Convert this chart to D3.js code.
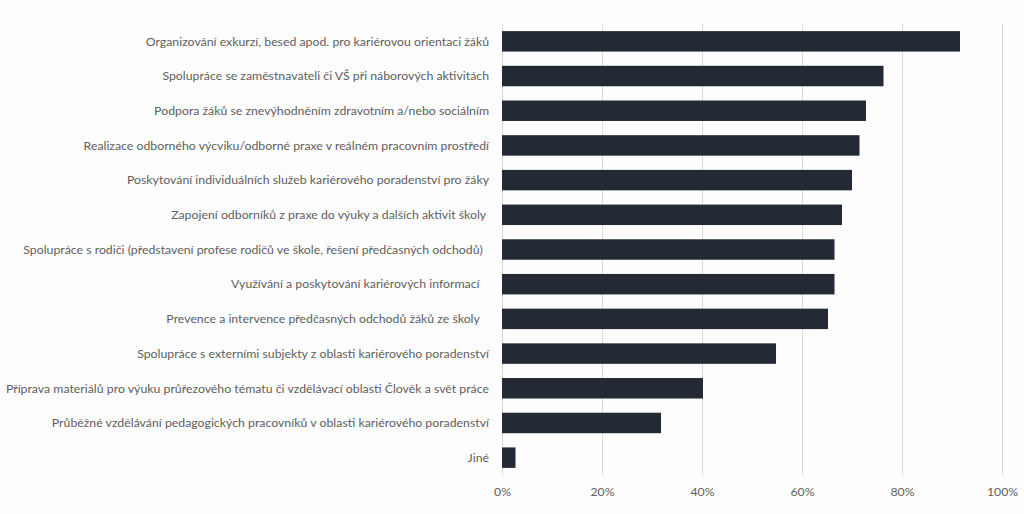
<!DOCTYPE html>
<html lang="cs">
<head>
<meta charset="utf-8" />
<script src="https://d3js.org/d3.v7.min.js"></script>
<style>
body { margin: 0; background: #fdfdfd; }
svg { font-family: Lato, "Open Sans", sans-serif; font-size: 12.3px; }
.label { fill: #5f5f5f; white-space: pre; }
.tick text { fill: #5f5f5f; }
</style>
</head>
<body>
<svg id="chart" width="1024" height="514"></svg>
<script>
var categories = [
  "Organizování exkurzí, besed apod. pro kariérovou orientaci žáků",
  "Spolupráce se zaměstnavateli či VŠ při náborových aktivitách",
  "Podpora žáků se znevýhodněním zdravotním a/nebo sociálním",
  "Realizace odborného výcviku/odborné praxe v reálném pracovním prostředí",
  "Poskytování individuálních služeb kariérového poradenství pro žáky",
  "Zapojení odborníků z praxe do výuky a dalších aktivit školy ",
  "Spolupráce s rodiči (představení profese rodičů ve škole, řešení předčasných odchodů)  ",
  "Využívání a poskytování kariérových informací   ",
  "Prevence a intervence předčasných odchodů žáků ze školy   ",
  "Spolupráce s externími subjekty z oblasti kariérového poradenství",
  "Příprava materiálů pro výuku průřezového tématu či vzdělávací oblasti Člověk a svět práce",
  "Průběžné vzdělávání pedagogických pracovníků v oblasti kariérového poradenství",
  "Jiné"
];
var values = [91.6, 76.3, 72.8, 71.5, 70.0, 68.0, 66.5, 66.5, 65.2, 54.8, 40.2, 31.8, 2.7];
var ticks = [0, 20, 40, 60, 80, 100];

var svg = d3.select("#chart"),
    margin = {top: 24, right: 22, bottom: 39, left: 502},
    width = +svg.attr("width") - margin.left - margin.right,
    height = +svg.attr("height") - margin.top - margin.bottom;

var g = svg.append("g").attr("transform", "translate(" + margin.left + "," + margin.top + ")");

var x = d3.scaleLinear().domain([0, 100]).range([0, width]);
var y = d3.scaleBand().domain(categories).range([0, height]).paddingInner(0.41).paddingOuter(0.205);

// gridlines
g.selectAll("line.grid")
    .data(ticks)
  .enter().append("line")
    .attr("class", "grid")
    .attr("x1", function(d) { return Math.round(x(d)) + 0.5; })
    .attr("x2", function(d) { return Math.round(x(d)) + 0.5; })
    .attr("y1", 0)
    .attr("y2", height)
    .attr("stroke", "#d9d9d9")
    .attr("stroke-width", 1);

g.selectAll("rect.bar")
    .data(values)
  .enter().append("rect")
    .attr("class", "bar")
    .attr("x", x(0))
    .attr("y", function(d, i) { return y(categories[i]); })
    .attr("width", function(d) { return x(d); })
    .attr("height", y.bandwidth())
    .attr("fill", "#232a35");

// category labels
g.selectAll("text.label")
    .data(categories)
  .enter().append("text")
    .attr("class", "label")
    .attr("x", -13)
    .attr("y", function(d) { return y(d) + y.bandwidth() / 2; })
    .attr("dy", "0.35em")
    .attr("text-anchor", "end")
    .text(function(d) { return d; });

var xAxis = g.append("g")
    .attr("transform", "translate(0," + height + ")")
    .call(d3.axisBottom(x).tickValues(ticks).tickSize(0).tickPadding(12)
      .tickFormat(function(d) { return d + "%"; }));
xAxis.select(".domain").remove();
xAxis.selectAll("text").style("font-family", "Lato, 'Open Sans', sans-serif").style("font-size", "12.3px");
</script>
</body>
</html>
